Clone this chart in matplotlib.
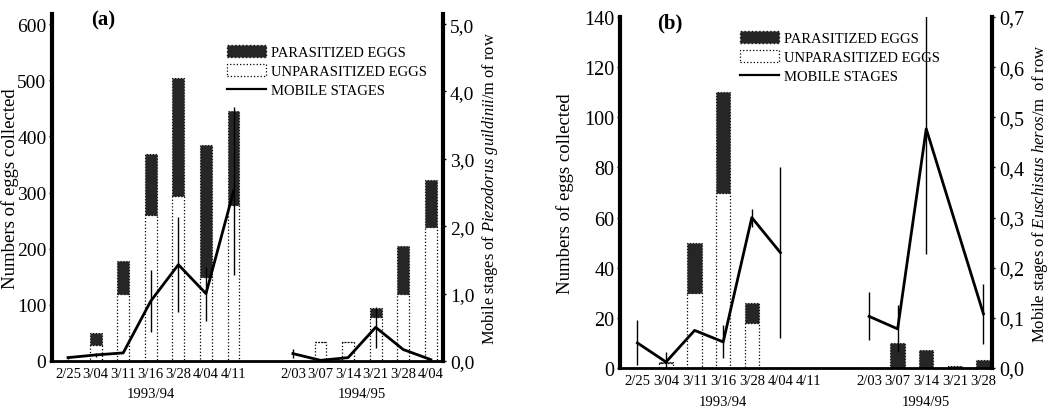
import numpy as np
import matplotlib
matplotlib.use('Agg')
import matplotlib.pyplot as plt
from matplotlib.patches import Patch
from matplotlib.lines import Line2D
import matplotlib.transforms as mtransforms

plt.rcParams['font.family'] = ['Liberation Serif', 'DejaVu Serif']
plt.rcParams['mathtext.fontset'] = 'custom'
plt.rcParams['mathtext.rm'] = 'Liberation Serif'
plt.rcParams['mathtext.it'] = 'Liberation Serif:italic'

# ---------------- data : panel (a) ----------------
seasons = ['1993/94', '1994/95']
dates_a1 = ['2/25', '3/04', '3/11', '3/16', '3/28', '4/04', '4/11']
dates_a2 = ['2/03', '3/07', '3/14', '3/21', '3/28', '4/04']
unpar_a = [0, 28, 119, 260, 294, 150, 277, 0, 33, 34, 79, 119, 238]
par_a = [0, 22, 59, 108, 210, 235, 168, 0, 0, 0, 15, 86, 84]
mobile_a = [0.05, 0.09, 0.12, 0.89, 1.43, 1.00, 2.52, 0.11, 0.01, 0.05, 0.50, 0.17, 0.02]
mobile_err_a = [0.02, 0.03, 0, 0.46, 0.71, 0.40, 1.25, 0.07, 0, 0, 0.30, 0, 0]

# ---------------- data : panel (b) ----------------
dates_b1 = ['2/25', '3/04', '3/11', '3/16', '3/28', '4/04', '4/11']
dates_b2 = ['2/03', '3/07', '3/14', '3/21', '3/28']
unpar_b = [0, 2, 30, 70, 18, 0, 0, 0, 0, 0, 0, 0]
par_b = [0, 0.5, 20, 40, 8, 0, 0, 0, 10, 7, 0.6, 3]
mobile_b = [0.05, 0.012, 0.075, 0.052, 0.30, 0.23, np.nan, 0.103, 0.078, 0.477, np.nan, 0.108]
mobile_err_b = [0.045, 0.02, 0, 0.033, 0.018, 0.17, 0, 0.048, 0.047, 0.25, 0, 0.06]

legend_labels = ['PARASITIZED EGGS', 'UNPARASITIZED EGGS', 'MOBILE STAGES']

PAR_COLOR = '#262626'


def fmt_comma(v):
    return f"{v:.1f}".replace('.', ',')


def draw_panel(fig, rect, d1, d2, unpar, par, mobile, err, gap, width,
               xlim, ylim, yticks, ylim2, yticks2, ylabel, ylabel2,
               ylabel_size, ylabel2_size, tick_size, tag, legend_anchor,
               year_y, ylabel_x):
    ax = fig.add_axes(rect)
    n1, n2 = len(d1), len(d2)
    x = np.concatenate([np.arange(n1), gap + np.arange(n2)])
    unpar = np.asarray(unpar, float)
    par = np.asarray(par, float)
    ax.bar(x, unpar, width=width, facecolor='white', edgecolor='black',
           linewidth=0.9, linestyle=':', zorder=2)
    ax.bar(x, par, width=width, bottom=unpar, facecolor=PAR_COLOR,
           edgecolor='#111111', linewidth=0.8, linestyle=':', zorder=2)
    ax.set_xlim(*xlim)
    ax.set_ylim(*ylim)
    ax.set_yticks(yticks)
    ax.set_yticklabels([str(v) for v in yticks], fontsize=tick_size)
    ax.set_xticks(x)
    ax.set_xticklabels(d1 + d2, fontsize=10.5)
    ax.tick_params(axis='x', length=0, pad=4)
    ax.tick_params(axis='y', length=2, width=1, direction='out', pad=2)
    ax.set_ylabel(ylabel, fontsize=ylabel_size)
    ax.yaxis.set_label_coords(ylabel_x, 0.5)
    ax.spines['top'].set_visible(False)
    ax.spines['left'].set_linewidth(3)
    ax.spines['bottom'].set_linewidth(2)
    ax.spines['right'].set_visible(False)

    ax2 = ax.twinx()
    mobile = np.asarray(mobile, float)
    err = np.asarray(err, float)
    ok = ~np.isnan(mobile)
    seg1 = ok & (x < n1)
    seg2 = ok & (x >= gap)
    for seg in (seg1, seg2):
        ax2.plot(x[seg], mobile[seg], color='black', lw=2, zorder=5)
    e_ok = ok & (err > 0)
    ax2.errorbar(x[e_ok], mobile[e_ok], yerr=err[e_ok], fmt='none',
                 ecolor='black', elinewidth=1, capsize=0, zorder=5)
    ax2.set_ylim(*ylim2)
    ax2.set_yticks(yticks2)
    ax2.set_yticklabels([fmt_comma(v) for v in yticks2], fontsize=tick_size)
    ax2.tick_params(axis='y', length=2, width=1, direction='out', pad=3)
    ax2.set_ylabel(ylabel2, fontsize=ylabel2_size, labelpad=4)
    ax2.spines['right'].set_linewidth(3)
    ax2.spines['top'].set_visible(False)
    ax2.spines['left'].set_visible(False)
    ax2.spines['bottom'].set_visible(False)

    trans = mtransforms.blended_transform_factory(ax.transData, ax.transAxes)
    ax.text((n1 - 1) / 2, year_y, seasons[0], transform=trans,
            ha='center', va='center', fontsize=10.5)
    ax.text(gap + (n2 - 1) / 2, year_y, seasons[1], transform=trans,
            ha='center', va='center', fontsize=10.5)

    ax.text(0.1, 0.985, tag, transform=ax.transAxes, fontsize=15,
            fontweight='bold', ha='left', va='center')

    handles = [Patch(facecolor=PAR_COLOR, edgecolor='#111111', linestyle=':'),
               Patch(facecolor='white', edgecolor='black', linestyle=':', linewidth=0.9),
               Line2D([0], [0], color='black', lw=1.6)]
    fig.legend(handles, legend_labels, loc='upper left',
               bbox_to_anchor=legend_anchor, bbox_transform=fig.transFigure,
               frameon=False, fontsize=10.5, handlelength=2.7, handleheight=0.9,
               handletextpad=0.3, labelspacing=0.35, borderpad=0, borderaxespad=0)
    return ax, ax2


W, H = 1063, 410
fig = plt.figure(figsize=(W / 100, H / 100), dpi=100)

draw_panel(fig, [52 / W, 1 - 362 / H, (443 - 52) / W, (362 - 15) / H],
           dates_a1, dates_a2, unpar_a, par_a, mobile_a, mobile_err_a,
           gap=8.15, width=0.43, xlim=(-0.58, 13.59), ylim=(0, 618),
           yticks=list(range(0, 601, 100)), ylim2=(0, 5.15),
           yticks2=[0.0, 1.0, 2.0, 3.0, 4.0, 5.0],
           ylabel='Numbers of eggs collected',
           ylabel2=r'Mobile stages of $\mathit{Piezodorus\ guildinii}$/m of row',
           ylabel_size=13.5, ylabel2_size=11.8, tick_size=14, tag='(a)',
           legend_anchor=(227 / W, 1 - 46 / H), year_y=-0.095,
           ylabel_x=-0.085)

draw_panel(fig, [620 / W, 1 - 369 / H, (992 - 620) / W, (369 - 18) / H],
           dates_b1, dates_b2, unpar_b, par_b, mobile_b, mobile_err_b,
           gap=8.1, width=0.5, xlim=(-0.61, 12.4), ylim=(0, 140),
           yticks=list(range(0, 141, 20)), ylim2=(0, 0.7),
           yticks2=[0.0, 0.1, 0.2, 0.3, 0.4, 0.5, 0.6, 0.7],
           ylabel='Numbers of eggs collected',
           ylabel2=r'Mobile stages of $\mathit{Euschistus\ heros}$/m  of row',
           ylabel_size=13.5, ylabel2_size=12, tick_size=14.5, tag='(b)',
           legend_anchor=(740 / W, 1 - 32 / H), year_y=-0.095,
           ylabel_x=-0.125)

fig.savefig('out.png', dpi=100)
